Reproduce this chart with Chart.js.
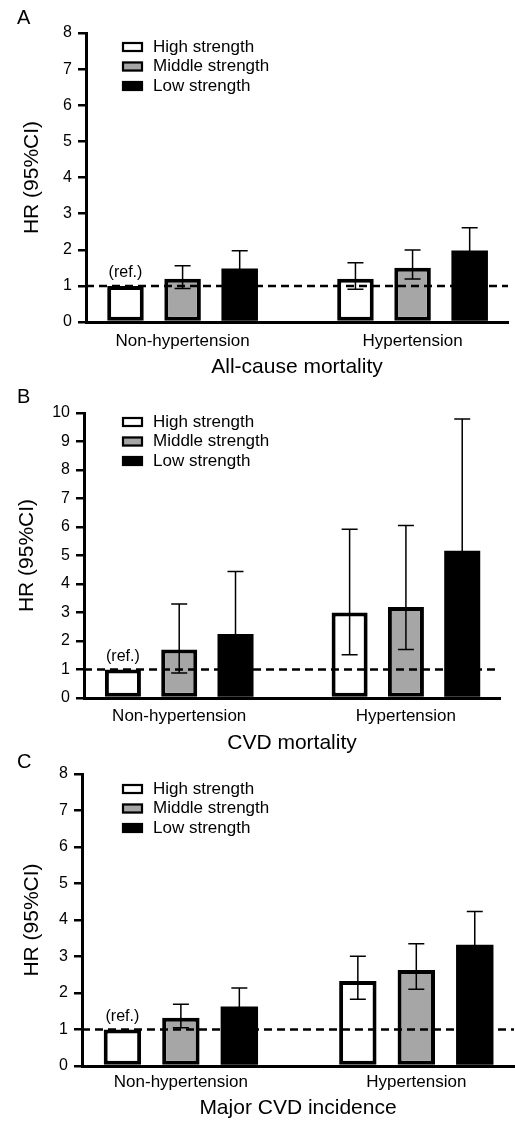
<!DOCTYPE html>
<html>
<head>
<meta charset="utf-8">
<script src="https://cdn.jsdelivr.net/npm/chart.js@4.4.0/dist/chart.umd.min.js"></script>
<style>
  body { margin: 0; background: #fff; }
  .panel { position: absolute; left: 0; width: 515px; }
</style>
</head>
<body>
<div class="panel" style="top:0;height:380px"><canvas id="chartA"></canvas></div>
<div class="panel" style="top:376px;height:380px"><canvas id="chartB"></canvas></div>
<div class="panel" style="top:745px;height:376px"><canvas id="chartC"></canvas></div>
<script>
var groups = ['Non-hypertension', 'Hypertension'];
var strengths = ['High strength', 'Middle strength', 'Low strength'];
var refHR = 1;

// rows: high, middle, low strength; columns: groups
var allCauseHR = [[1.00, 1.20], [1.20, 1.50], [1.48, 1.98]];
var allCauseLo = [[null, 0.91], [0.93, 1.19], [1.12, 1.50]];
var allCauseHi = [[null, 1.64], [1.56, 1.99], [1.97, 2.61]];

var cvdDeathHR = [[1.00, 3.00], [1.70, 3.19], [2.25, 5.17]];
var cvdDeathLo = [[null, 1.52], [0.88, 1.70], [1.14, 2.72]];
var cvdDeathHi = [[null, 5.92], [3.30, 6.05], [4.44, 9.79]];

var majorCvdHR = [[1.00, 2.33], [1.32, 2.63], [1.63, 3.32]];
var majorCvdLo = [[null, 1.83], [1.05, 2.10], [1.25, 2.60]];
var majorCvdHi = [[null, 3.01], [1.69, 3.35], [2.14, 4.23]];

var FONT = "'Liberation Sans', Arial, sans-serif";
Chart.defaults.font.family = FONT;
Chart.defaults.color = '#000';

var fills = ['#ffffff', '#a6a6a6', '#000000'];

function makePanel(id, p) {
  var datasets = strengths.map(function(name, k) {
    return {
      label: name,
      data: p.hr[k].map(function(v, i) { return {x: i + 1, y: v}; }),
      ciLow: p.lo[k],
      ciHigh: p.hi[k],
      backgroundColor: fills[k],
      borderColor: '#000',
      borderWidth: k == 2 ? 0 : 4,  // black bar needs no outline
      borderSkipped: false,
      categoryPercentage: 0.745,
      barPercentage: 0.64
    };
  });

  var extras = {
    id: 'extras',
    afterDatasetsDraw: function(chart) {
      var ctx = chart.ctx, ys = chart.scales.y, area = chart.chartArea;
      ctx.save();
      // error bars
      ctx.strokeStyle = '#000';
      ctx.lineWidth = 1.5;
      chart.data.datasets.forEach(function(ds, k) {
        chart.getDatasetMeta(k).data.forEach(function(bar, i) {
          if (ds.ciLow[i] == null) return;
          var y1 = ys.getPixelForValue(ds.ciLow[i]);
          var y2 = ys.getPixelForValue(ds.ciHigh[i]);
          ctx.beginPath();
          ctx.moveTo(bar.x, y1); ctx.lineTo(bar.x, y2);
          ctx.moveTo(bar.x - 8, y1); ctx.lineTo(bar.x + 8, y1);
          ctx.moveTo(bar.x - 8, y2); ctx.lineTo(bar.x + 8, y2);
          ctx.stroke();
        });
      });
      // dashed line at HR = 1
      var yr = ys.getPixelForValue(refHR);
      ctx.setLineDash([8, 5]);
      ctx.lineWidth = 2.5;
      ctx.beginPath();
      ctx.moveTo(area.left, yr);
      ctx.lineTo(area.right, yr);
      ctx.stroke();
      ctx.setLineDash([]);
      // (ref.) label
      var refBar = chart.getDatasetMeta(0).data[0];
      ctx.fillStyle = '#000';
      ctx.font = '16px ' + FONT;
      ctx.textAlign = 'center';
      ctx.textBaseline = 'middle';
      ctx.fillText('(ref.)', refBar.x, yr - 13);
      ctx.restore();
    },
    afterDraw: function(chart) {
      var ctx = chart.ctx, area = chart.chartArea;
      ctx.save();
      // panel letter
      ctx.fillStyle = '#000';
      ctx.font = '20px ' + FONT;
      ctx.textAlign = 'left';
      ctx.textBaseline = 'middle';
      ctx.fillText(p.letter, 17, p.letterY);
      // legend
      ctx.font = '17px ' + FONT;
      chart.data.datasets.forEach(function(ds, k) {
        var y = area.top + p.legendTop + k * 19.5;
        ctx.fillStyle = ds.backgroundColor;
        ctx.fillRect(122, y - 5, 21, 10);
        ctx.strokeStyle = '#000';
        ctx.lineWidth = 2.2;
        ctx.strokeRect(123, y - 4, 19, 8);
        ctx.fillStyle = '#000';
        ctx.fillText(ds.label, 153, y);
      });
      ctx.restore();
    }
  };

  return new Chart(document.getElementById(id), {
    type: 'bar',
    data: { datasets: datasets },
    options: {
      responsive: true,
      maintainAspectRatio: false,
      animation: false,
      layout: { padding: { left: 0, right: 515 - p.right, top: p.top, bottom: 0 } },
      plugins: { legend: { display: false }, tooltip: { enabled: false } },
      scales: {
        x: {
          type: 'linear',
          offset: false,
          min: 0.58,
          max: 2.415,
          grid: { display: false, drawTicks: false },
          border: { color: '#000', width: 3 },
          afterBuildTicks: function(s) {
            s.ticks = groups.map(function(g, i) { return { value: i + 1 }; });
          },
          ticks: {
            autoSkip: false,
            maxRotation: 0,
            padding: p.xPad,
            font: { size: 17 },
            callback: function(v) { return groups[v - 1]; }
          },
          title: { display: true, text: p.title, font: { size: 21 }, padding: { top: 0, bottom: p.xTitlePad } },
          afterFit: function(s) { s.height = p.h - p.bottom; }
        },
        y: {
          min: 0,
          max: p.max,
          ticks: { stepSize: 1, padding: 6, font: { size: 16 } },
          grid: { drawOnChartArea: false, tickLength: 8, color: '#000', lineWidth: 2.5 },
          border: { color: '#000', width: 3 },
          title: { display: true, text: 'HR (95%CI)', font: { size: 21 }, padding: { top: p.yTitleX - 12.6, bottom: 0 } },
          afterFit: function(s) { s.width = p.left; }
        }
      }
    },
    plugins: [extras]
  });
}

makePanel('chartA', {
  letter: 'A', letterY: 18, title: 'All-cause mortality',
  h: 380, top: 33, bottom: 322, left: 86, right: 508, max: 8,
  yTitleX: 32, xPad: 9, xTitlePad: 0.4, legendTop: 14,
  hr: allCauseHR, lo: allCauseLo, hi: allCauseHi
});
makePanel('chartB', {
  letter: 'B', letterY: 21, title: 'CVD mortality',
  h: 380, top: 37, bottom: 322, left: 84, right: 500, max: 10,
  yTitleX: 27, xPad: 8, xTitlePad: 0.4, legendTop: 9,
  hr: cvdDeathHR, lo: cvdDeathLo, hi: cvdDeathHi
});
makePanel('chartC', {
  letter: 'C', letterY: 17, title: 'Major CVD incidence',
  h: 376, top: 29, bottom: 321, left: 82, right: 514, max: 8,
  yTitleX: 32, xPad: 6, xTitlePad: 0, legendTop: 15,
  hr: majorCvdHR, lo: majorCvdLo, hi: majorCvdHi
});
</script>
</body>
</html>
